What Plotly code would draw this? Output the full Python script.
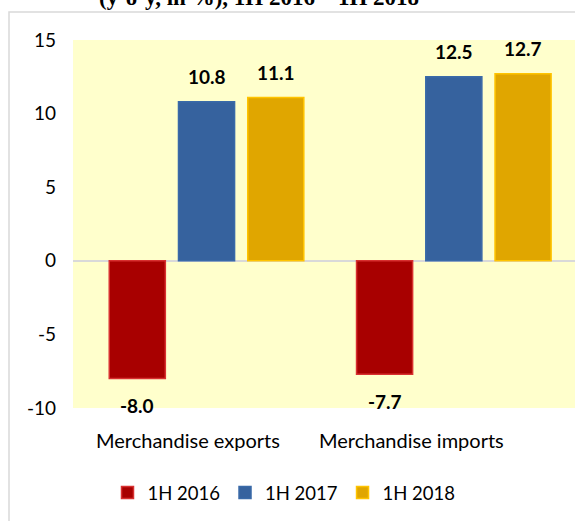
import plotly.graph_objects as go

categories = ["Merchandise exports", "Merchandise imports"]
series_names = ["1H 2016", "1H 2017", "1H 2018"]
values_2016 = [-8.0, -7.7]
values_2017 = [10.8, 12.5]
values_2018 = [11.1, 12.7]
y_ticks = [-10, -5, 0, 5, 10, 15]
y_tick_text = ["-10", "-5", "0", "5", "10", "15"]
title_text = "(y-o-y, in %), 1H 2016 – 1H 2018"

fills = ["#A80000", "#36629E", "#E0A600"]
edges = ["#D83030", "#3A6AA8", "#FFC400"]
font_family = "Lato, 'Liberation Sans', sans-serif"

BARGAP = 0.16
GROUPGAP = 0.19

all_values = [values_2016, values_2017, values_2018]

fig = go.Figure()
for name, vals, fc, lc in zip(series_names, all_values, fills, edges):
    fig.add_trace(go.Bar(
        x=categories, y=vals, name=name,
        marker=dict(color=fc, line=dict(color=lc, width=1.5)),
        hoverinfo="skip",
    ))

W, H = 575, 521
L, R, T, B = 73, 0, 40, 113
pw, ph = W - L - R, H - T - B

def px_x(p):
    return (p - L) / pw

def px_y(p):
    return (H - B - p) / ph

# data labels: placed at each bar's slot within the group
n = len(series_names)
slot = (1 - BARGAP) / n
for si, vals in enumerate(all_values):
    for ci, v in enumerate(vals):
        fig.add_annotation(
            x=ci + (si - (n - 1) / 2) * slot, y=v, xref="x", yref="y",
            yanchor="middle", yshift=25 if v >= 0 else -27,
            text=f"<b>{v:.1f}</b>", showarrow=False,
            font=dict(family=font_family, size=19, color="black"))

fig.update_layout(
    width=W, height=H,
    margin=dict(l=L, r=R, t=T, b=B),
    paper_bgcolor="white",
    plot_bgcolor="#FFFFCC",
    barmode="group",
    bargap=BARGAP,
    bargroupgap=GROUPGAP,
    font=dict(family=font_family, size=17, color="black"),
    showlegend=True,
    legend=dict(orientation="h", x=px_x(284), xanchor="center", y=px_y(493), yanchor="middle",
                font=dict(size=18.5), itemwidth=30, traceorder="normal"),
    xaxis=dict(range=[-0.54, 1.49], showticklabels=False, showgrid=False, zeroline=False,
               showline=False, fixedrange=True),
    yaxis=dict(range=[-10, 15], tickvals=y_ticks, ticktext=y_tick_text, showgrid=False,
               zeroline=True, zerolinecolor="#D9D9D9", zerolinewidth=2, showline=False,
               ticklabelstandoff=16, tickfont=dict(size=19), fixedrange=True),
)

# category labels under the axis
for cat, shift in zip(categories, [-19, -42]):
    fig.add_annotation(x=cat, y=0, xref="x", yref="paper", yanchor="middle", yshift=-32,
                       xshift=shift, text=cat, showarrow=False, font=dict(size=20))

# outer chart border
fig.add_shape(type="rect", xref="paper", yref="paper",
              x0=px_x(9), x1=px_x(578), y0=px_y(530), y1=px_y(12),
              line=dict(color="#D9D9D9", width=1.5), fillcolor="rgba(0,0,0,0)", layer="below")

# title (partially cut at top, as in the reference)
fig.add_annotation(x=px_x(259), y=px_y(12), xref="paper", yref="paper", xanchor="center",
                   yanchor="bottom", text=f"<b>{title_text}</b>", showarrow=False,
                   font=dict(family="'Liberation Serif', 'Times New Roman', serif", size=23))

fig.write_html("out.html", config={"displayModeBar": False},
               post_script="document.body.style.margin='0';")
